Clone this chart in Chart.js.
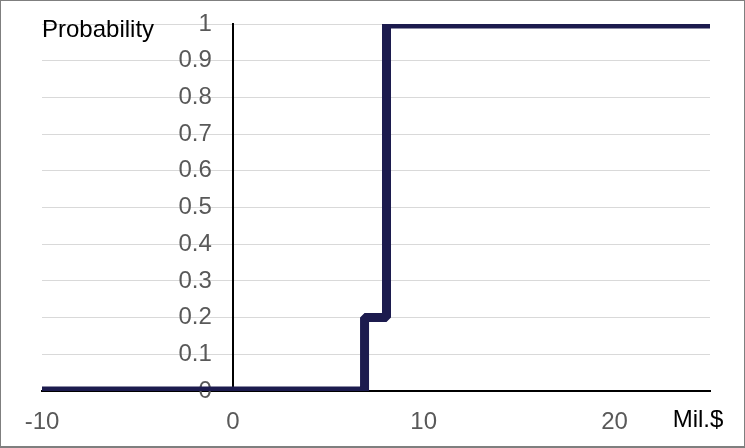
<!DOCTYPE html>
<html>
<head>
<meta charset="utf-8">
<script src="https://cdn.jsdelivr.net/npm/chart.js@4/dist/chart.umd.min.js"></script>
<style>
  body { margin: 0; background: #fff; }
  #wrap { width: 745px; height: 448px; position: relative; }
</style>
</head>
<body>
<div id="wrap"><canvas id="myChart" width="745" height="448"></canvas></div>
<script>
// step points of the cumulative probability curve
var xValues = [-10, 6.9, 6.9, 8.05, 8.05, 25];
var yValues = [0, 0, 0.2, 0.2, 1, 1];

var xTicks = [-10, 0, 10, 20];
var yTicks = [0, 0.1, 0.2, 0.3, 0.4, 0.5, 0.6, 0.7, 0.8, 0.9, 1];

var yTitle = "Probability";
var xTitle = "Mil.$";

var fontFamily = "'Liberation Sans', Arial, sans-serif";

var points = [];
for (let i = 0; i < xValues.length; i++) {
	points.push({ x: xValues[i], y: yValues[i] });
}

// axis captions and frame
const extras = {
	id: "extras",
	afterDraw: function (chart) {
		const ctx = chart.ctx;
		ctx.save();
		ctx.fillStyle = "#000";
		ctx.font = "24px " + fontFamily;
		ctx.textBaseline = "alphabetic";
		ctx.textAlign = "left";
		ctx.fillText(yTitle, 42, 37);
		ctx.textAlign = "center";
		ctx.fillText(xTitle, 698, 427);
		ctx.strokeStyle = "#7f7f7f";
		ctx.lineWidth = 2;
		ctx.strokeRect(0, 0, 745, 447);
		ctx.restore();
	},
};

const data = {
	datasets: [
		{
			label: "Probability",
			data: points,
			borderColor: "#1c1b4e",
			backgroundColor: "#1c1b4e",
			borderWidth: 9,
			borderJoinStyle: "bevel",
			pointRadius: 0,
			tension: 0,
			fill: false,
		},
	],
};

const yTickList = function (scale) {
	scale.ticks = yTicks.map(function (v) { return { value: v }; });
};

// keep tick labels from pushing the plot area around
const noPad = function (scale) {
	scale.paddingTop = 0;
	scale.paddingBottom = 0;
	scale.paddingLeft = 0;
	scale.paddingRight = 0;
};

const config = {
	type: "line",
	data: data,
	plugins: [extras],
	options: {
		responsive: false,
		animation: false,
		layout: {
			padding: { left: 42, right: 35, top: 24, bottom: 57 },
		},
		plugins: {
			legend: { display: false },
			tooltip: { enabled: false },
		},
		scales: {
			x: {
				type: "linear",
				min: -10,
				max: 25,
				position: { y: 0 },
				afterBuildTicks: function (scale) {
					scale.ticks = xTicks.map(function (v) { return { value: v }; });
				},
				afterFit: noPad,
				grid: { display: false, drawTicks: false },
				border: { display: true, color: "#000", width: 2 },
				ticks: {
					color: "#595959",
					padding: 17,
					font: { family: fontFamily, size: 24 },
					maxRotation: 0,
				},
			},
			y: {
				type: "linear",
				min: 0,
				max: 1,
				position: { x: 0 },
				afterBuildTicks: yTickList,
				afterFit: noPad,
				grid: { color: "#d9d9d9", lineWidth: 1, drawTicks: false },
				border: { display: true, color: "#000", width: 2 },
				ticks: { display: false },
			},
			// labels only, set a little to the left of the x = 0 axis
			yLabels: {
				type: "linear",
				min: 0,
				max: 1,
				position: { x: -1.1 },
				afterBuildTicks: yTickList,
				afterFit: noPad,
				grid: { display: false, drawTicks: false },
				border: { display: false },
				ticks: {
					color: "#595959",
					font: { family: fontFamily, size: 24 },
					callback: function (value) {
						return String(Math.round(value * 10) / 10);
					},
				},
			},
		},
	},
};

const myChart = new Chart(document.getElementById("myChart"), config);
</script>
</body>
</html>
